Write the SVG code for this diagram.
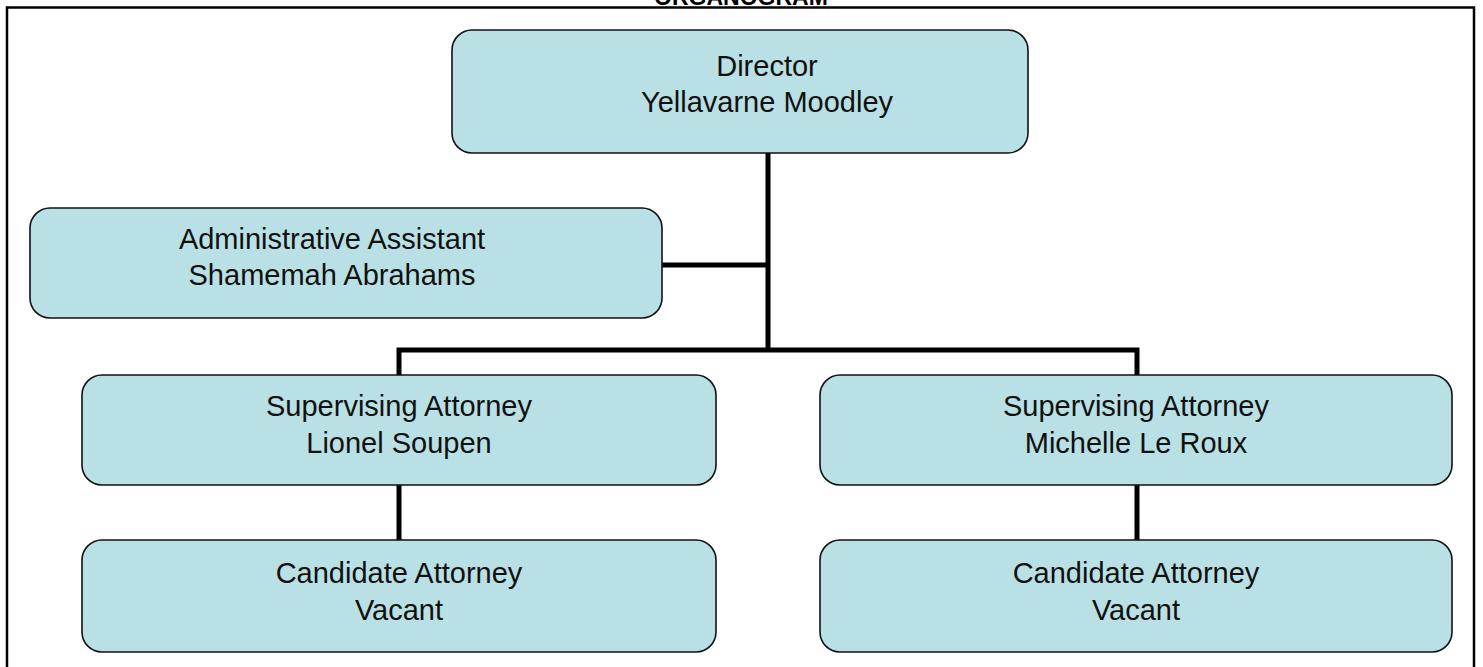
<svg xmlns="http://www.w3.org/2000/svg" width="1483" height="667" viewBox="0 0 1483 667">
<style>
.box{fill:#b9e0e4;stroke:#111;stroke-width:1.6}
.t{font-family:"Liberation Sans",Arial,sans-serif;font-size:29px;fill:#111;text-anchor:middle}
.ttl{font-family:"Liberation Sans",Arial,sans-serif;font-size:23px;font-weight:bold;fill:#000;text-anchor:middle}
.c{fill:none;stroke:#000;stroke-width:5}
</style>
<rect width="1483" height="667" fill="#fff"/>
<text class="ttl" x="741" y="5">ORGANOGRAM</text>
<path d="M7,667 V7.5 H1474 V667" fill="none" stroke="#000" stroke-width="2.5"/>
<g id="connectors">
<path class="c" d="M768,153 V350"/>
<path class="c" d="M662,265 H768"/>
<path class="c" d="M399,375 V350 H1137 V375"/>
<path class="c" d="M399,485 V540"/>
<path class="c" d="M1137,485 V540"/>
</g>
<g id="director">
<rect class="box" x="452" y="30" width="576" height="123" rx="20"/>
<text class="t" x="767" y="76">Director</text>
<text class="t" x="767" y="112">Yellavarne Moodley</text>
</g>
<g id="admin">
<rect class="box" x="30" y="208" width="632" height="110" rx="20"/>
<text class="t" x="332" y="249">Administrative Assistant</text>
<text class="t" x="332" y="285">Shamemah Abrahams</text>
</g>
<g id="sup-left">
<rect class="box" x="82" y="375" width="634" height="110" rx="20"/>
<text class="t" x="399" y="416">Supervising Attorney</text>
<text class="t" x="399" y="453">Lionel Soupen</text>
</g>
<g id="sup-right">
<rect class="box" x="820" y="375" width="632" height="110" rx="20"/>
<text class="t" x="1136" y="416">Supervising Attorney</text>
<text class="t" x="1136" y="453">Michelle Le Roux</text>
</g>
<g id="cand-left">
<rect class="box" x="82" y="540" width="634" height="112" rx="20"/>
<text class="t" x="399" y="583">Candidate Attorney</text>
<text class="t" x="399" y="620">Vacant</text>
</g>
<g id="cand-right">
<rect class="box" x="820" y="540" width="632" height="112" rx="20"/>
<text class="t" x="1136" y="583">Candidate Attorney</text>
<text class="t" x="1136" y="620">Vacant</text>
</g>
</svg>
